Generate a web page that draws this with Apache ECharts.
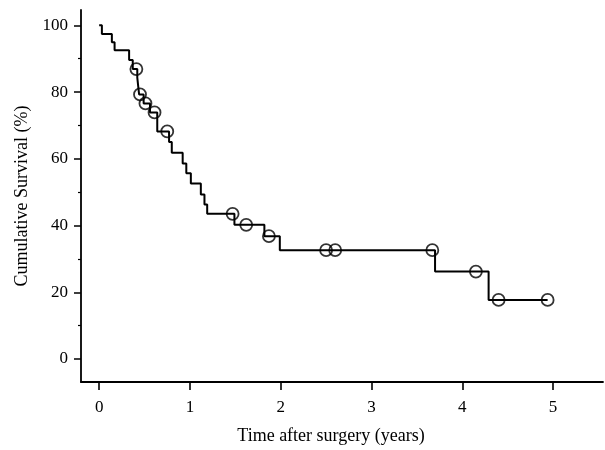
<!DOCTYPE html>
<html>
<head>
<meta charset="utf-8">
<script src="https://cdn.jsdelivr.net/npm/echarts@6/dist/echarts.min.js"></script>
<style>
  html, body { margin: 0; padding: 0; background: #fff; }
  #chart { width: 605px; height: 450px; }
</style>
</head>
<body>
<div id="chart"></div>
<script>
// Kaplan-Meier steps: time of event (years) and survival after it (%)
const stepTimes = [0, 0.03, 0.14, 0.17, 0.33, 0.37, 0.42, 0.43, 0.44, 0.49, 0.56, 0.64,
  0.77, 0.80, 0.92, 0.96, 1.01, 1.12, 1.16, 1.19, 1.49, 1.82, 1.99, 3.70, 4.29, 4.94];
const stepSurv = [100, 97.4, 94.9, 92.5, 89.6, 86.9, 84.3, 81.8, 79.3, 76.6, 73.9, 68.2,
  65.0, 61.8, 58.6, 55.7, 52.6, 49.3, 46.3, 43.5, 40.2, 36.8, 32.6, 26.2, 17.7, 17.7];

// censored observations (circles)
const censorTimes = [0.41, 0.45, 0.51, 0.61, 0.75, 1.47, 1.62, 1.87, 2.50, 2.60, 3.67, 4.15, 4.40, 4.94];
const censorSurv = [86.9, 79.3, 76.6, 73.9, 68.2, 43.5, 40.2, 36.8, 32.6, 32.6, 32.6, 26.2, 17.7, 17.7];

const xTicks = [0, 1, 2, 3, 4, 5];
const yTicks = [0, 20, 40, 60, 80, 100];
const yMinorTicks = [10, 30, 50, 70, 90];

const ink = '#000';
const font = 'Liberation Serif';

const chart = echarts.init(document.getElementById('chart'), null, { renderer: 'canvas' });

const option = {
  animation: false,
  grid: { left: 81, right: 2, top: 10, bottom: 62 },
  xAxis: {
    type: 'value',
    min: -0.2,
    max: 5.55,
    name: 'Time after surgery (years)',
    nameLocation: 'middle',
    nameGap: 45,
    nameTextStyle: { fontFamily: font, fontSize: 18, color: ink, padding: [0, 22, 0, 0] },
    axisLine: { show: true, onZero: false, lineStyle: { color: ink, width: 1.8 } },
    axisTick: { show: true, customValues: xTicks, length: 8, lineStyle: { color: ink, width: 1.6 } },
    axisLabel: { customValues: xTicks, fontFamily: font, fontSize: 17, color: ink, margin: 17 },
    splitLine: { show: false }
  },
  yAxis: [
    {
      type: 'value',
      min: -6.9,
      max: 104.6,
      name: 'Cumulative Survival (%)',
      nameLocation: 'middle',
      nameGap: 48,
      nameTextStyle: { fontFamily: font, fontSize: 18, color: ink },
      axisLine: { show: true, onZero: false, lineStyle: { color: ink, width: 1.8 } },
      axisTick: { show: true, customValues: yTicks, length: 7, lineStyle: { color: ink, width: 1.5 } },
      axisLabel: { customValues: yTicks, fontFamily: font, fontSize: 17, color: ink, margin: 13 },
      splitLine: { show: false }
    },
    {
      // minor ticks only
      type: 'value',
      position: 'left',
      min: -6.9,
      max: 104.6,
      axisLine: { show: false, onZero: false },
      axisTick: { show: true, customValues: yMinorTicks, length: 3, lineStyle: { color: ink, width: 1.2 } },
      axisLabel: { show: false },
      splitLine: { show: false }
    }
  ],
  series: [
    {
      name: 'survival',
      type: 'line',
      step: 'end',
      showSymbol: false,
      data: stepTimes.map((t, i) => [t, stepSurv[i]]),
      lineStyle: { color: ink, width: 2 },
      z: 2
    },
    {
      name: 'censored',
      type: 'scatter',
      symbol: 'circle',
      symbolSize: 12,
      data: censorTimes.map((t, i) => [t, censorSurv[i]]),
      itemStyle: { color: 'rgba(0,0,0,0)', borderColor: ink, borderWidth: 1.8 },
      z: 3
    }
  ]
};

chart.setOption(option);
window.addEventListener('resize', () => {
  chart.resize();
});
</script>
</body>
</html>
